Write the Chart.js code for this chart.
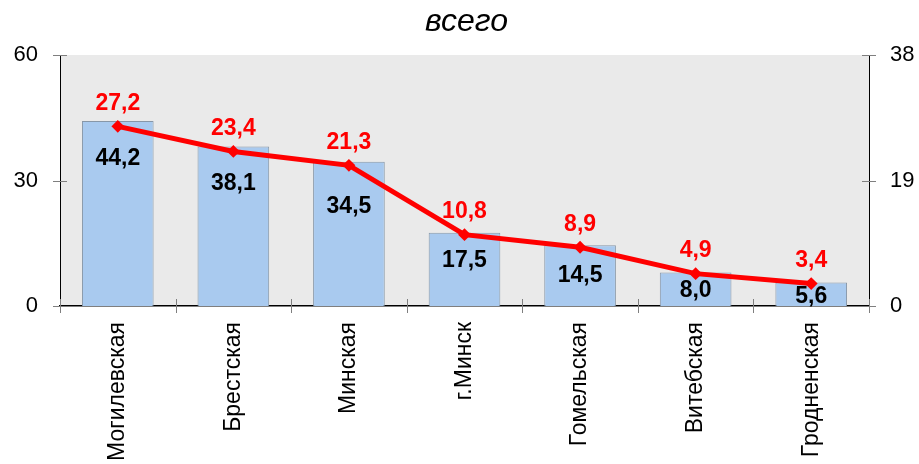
<!DOCTYPE html>
<html><head><meta charset="utf-8">
<script src="https://cdn.jsdelivr.net/npm/chart.js@4/dist/chart.umd.min.js"></script>
<style>html,body{margin:0;padding:0;background:#fff;}#wrap{width:919px;height:464px;}</style>
</head><body><div id="wrap"><canvas id="c" width="919" height="464"></canvas></div>
<script>
const titleText = 'всего';
const categories = ['Могилевская','Брестская','Минская','г.Минск','Гомельская','Витебская','Гродненская'];
const barValues = [44.2, 38.1, 34.5, 17.5, 14.5, 8.0, 5.6];
const lineValues = [27.2, 23.4, 21.3, 10.8, 8.9, 4.9, 3.4];
const leftTicks = [0, 30, 60];
const rightTicks = [0, 19, 38];

const FONT = '"Liberation Sans", Arial, sans-serif';
const fmt = v => v.toFixed(1).replace('.', ',');
const barLabelOffsets = [38, 37, 45, 28, 30, 18, 14];

const bgPlugin = {
  id: 'bg',
  beforeDraw(chart) {
    const {ctx, chartArea: a} = chart;
    ctx.save();
    ctx.fillStyle = '#EAEAEA';
    ctx.fillRect(a.left, a.top, a.right - a.left, a.bottom - a.top);
    ctx.restore();
  },
  afterDraw(chart) {
    const {ctx, chartArea: a} = chart;
    ctx.save();
    ctx.font = 'italic 32px ' + FONT;
    ctx.fillStyle = '#000';
    ctx.textAlign = 'center';
    ctx.textBaseline = 'middle';
    ctx.fillText(titleText, (a.left + a.right) / 2 + 2, 22);
    ctx.strokeStyle = '#7f7f7f';
    ctx.lineWidth = 1;
    const yl = chart.scales.y, yr = chart.scales.y1;
    ctx.beginPath();
    yl.ticks.forEach(t => { const p = Math.round(yl.getPixelForValue(t.value)) + 0.5; ctx.moveTo(a.left - 7, p); ctx.lineTo(a.left + 7, p); });
    yr.ticks.forEach(t => { const p = Math.round(yr.getPixelForValue(t.value)) + 0.5; ctx.moveTo(a.right - 7, p); ctx.lineTo(a.right + 7, p); });
    const n = categories.length;
    for (let i = 0; i <= n; i++) {
      const p = Math.round(a.left + (a.right - a.left) * i / n) + 0.5;
      ctx.moveTo(p, a.bottom - 7); ctx.lineTo(p, a.bottom + 7);
    }
    ctx.stroke();
    ctx.restore();
  }
};

const labelPlugin = {
  id: 'vals',
  afterDatasetsDraw(chart) {
    const {ctx} = chart;
    ctx.save();
    ctx.textAlign = 'center';
    ctx.textBaseline = 'middle';
    ctx.font = 'bold 23px ' + FONT;
    const barMeta = chart.getDatasetMeta(1);
    ctx.fillStyle = '#000';
    barMeta.data.forEach((el, i) => {
      ctx.fillText(fmt(barValues[i]), el.x, el.y + barLabelOffsets[i]);
    });
    const lineMeta = chart.getDatasetMeta(0);
    ctx.fillStyle = '#FF0000';
    lineMeta.data.forEach((el, i) => {
      ctx.fillText(fmt(lineValues[i]), el.x, el.y - 23);
    });
    ctx.restore();
  }
};

new Chart(document.getElementById('c'), {
  type: 'bar',
  data: {
    labels: categories,
    datasets: [
      {
        type: 'line', data: lineValues, yAxisID: 'y1', order: 0,
        borderColor: '#FF0000', borderWidth: 5, tension: 0,
        pointStyle: 'rectRot', pointRadius: 5, pointBorderWidth: 2,
        pointBackgroundColor: '#FF0000', pointBorderColor: '#FF0000', clip: false
      },
      {
        type: 'bar', data: barValues, yAxisID: 'y', order: 1,
        backgroundColor: '#A9CAEF', borderColor: '#8797A8', borderWidth: 1,
        categoryPercentage: 0.62, barPercentage: 1.0
      }
    ]
  },
  options: {
    responsive: false, animation: false, devicePixelRatio: 1,
    layout: { padding: { top: 55, left: 0, right: 0, bottom: 0 } },
    plugins: { legend: { display: false }, title: { display: false }, tooltip: { enabled: false } },
    scales: {
      x: {
        offset: true,
        grid: { display: false, drawTicks: false },
        border: { display: true, color: '#000', width: 1.5 },
        ticks: { color: '#000', font: { family: FONT, size: 23 }, minRotation: 90, maxRotation: 90, padding: 16, autoSkip: false },
        afterFit(s) { s.height = 158; }
      },
      y: {
        position: 'left', min: 0, max: 60,
        grid: { display: false, drawTicks: false },
        border: { display: true, color: '#000', width: 1 },
        ticks: { color: '#000', font: { family: FONT, size: 22 }, padding: 22, stepSize: 30 },
        afterBuildTicks(s) { s.ticks = leftTicks.map(v => ({value: v})); },
        afterFit(s) { s.width = 60; }
      },
      y1: {
        position: 'right', min: 0, max: 38,
        grid: { display: false, drawTicks: false },
        border: { display: true, color: '#000', width: 1 },
        ticks: { color: '#000', font: { family: FONT, size: 22 }, padding: 21, stepSize: 19 },
        afterBuildTicks(s) { s.ticks = rightTicks.map(v => ({value: v})); },
        afterFit(s) { s.width = 50; }
      }
    }
  },
  plugins: [bgPlugin, labelPlugin]
});
</script></body></html>
